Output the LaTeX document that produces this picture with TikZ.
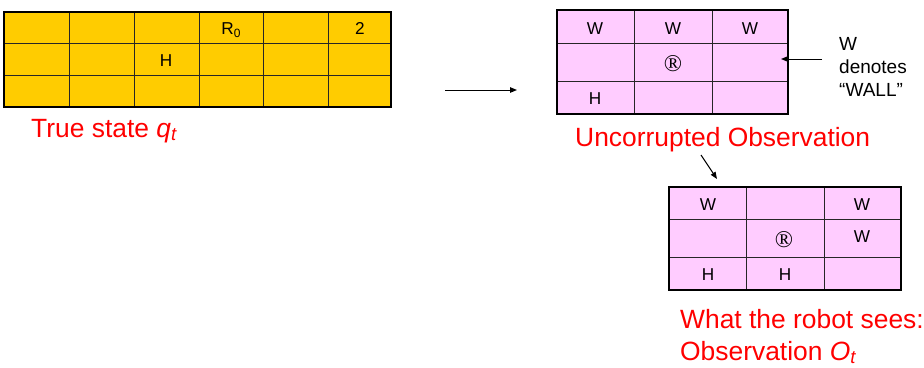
\documentclass[tikz,border=0pt]{standalone}
\usepackage{fontspec}
\setmainfont{Liberation Sans}
\newfontfamily\serifsym{Liberation Serif}
\usetikzlibrary{arrows.meta}
\definecolor{stategold}{HTML}{FFCC00}
\definecolor{obspink}{HTML}{FFCCFF}
\definecolor{labelred}{HTML}{FF0000}
\newcommand{\robotmark}{{\serifsym\fontsize{24}{24}\selectfont ®}}

\tikzset{
  cellfill/.style={inner sep=0pt, outer sep=0pt, anchor=north west},
  frameline/.style={line width=2.2pt, black},
  gridline/.style={line width=1pt, black!85},
  celltext/.style={anchor=base, inner sep=0pt, font=\fontsize{17.2}{17.2}\selectfont},
  robottext/.style={anchor=center, inner sep=0pt},
  redlabel/.style={anchor=base west, inner sep=0pt, text=labelred, font=\fontsize{26.4}{32}\selectfont},
  notelabel/.style={anchor=north west, inner sep=0pt, align=left, font=\fontsize{19}{23.3}\selectfont},
  pointer/.style={line width=1pt, -{Triangle[length=7pt,width=5.5pt]}},
}

\begin{document}
\begin{tikzpicture}[x=1pt,y=-1pt]
\useasboundingbox (0,0) rectangle (924,367);

% ---- true state: 6 x 3 grid ----
\node[cellfill, fill=stategold, minimum width=387pt, minimum height=95pt] (truegrid) at (4,12) {};
\foreach \x in {69,134,199,263,328} \draw[gridline] (\x,12) -- (\x,107);
\foreach \y in {43,75} \draw[gridline] (4,\y) -- (391,\y);
\draw[frameline] (truegrid.north west) rectangle (truegrid.south east);
\node[celltext] (tR) at (231,34) {R\raisebox{-3.5pt}{\fontsize{12}{12}\selectfont 0}};
\node[celltext] (t2) at (360,34) {2};
\node[celltext] (tH) at (166,66) {H};
\node[redlabel] (truelabel) at (31,137) {True state \textit{q\textsubscript{t}}};

% ---- uncorrupted observation: 3 x 3 grid ----
\node[cellfill, fill=obspink, minimum width=231pt, minimum height=104pt] (obsgrid) at (557,10) {};
\foreach \x in {634,712} \draw[gridline] (\x,10) -- (\x,114);
\foreach \y in {43,81} \draw[gridline] (557,\y) -- (788,\y);
\draw[frameline] (obsgrid.north west) rectangle (obsgrid.south east);
\node[celltext] (oW1) at (595,34) {W};
\node[celltext] (oW2) at (673,34) {W};
\node[celltext] (oW3) at (750,34) {W};
\node[robottext] (oR) at (673,64) {\robotmark};
\node[celltext] (oH) at (595,104) {H};
\node[redlabel] (obslabel) at (575,146) {Uncorrupted Observation};

% wall note
\node[notelabel] (wallnote) at (839,37) {W\\denotes\\“WALL”};
\coordinate (noteend) at (822,59);
\coordinate (notetip) at (781,59);
\draw[pointer] (noteend) -- (notetip);

% transition arrow
\coordinate (stepfrom) at (445,90);
\coordinate (stepto) at (517,90);
\draw[pointer] (stepfrom) -- (stepto);

% ---- what the robot sees: 3 x 3 grid ----
\node[cellfill, fill=obspink, minimum width=232pt, minimum height=103pt] (seengrid) at (669,187) {};
\foreach \x in {746,824} \draw[gridline] (\x,187) -- (\x,290);
\foreach \y in {219,257} \draw[gridline] (669,\y) -- (901,\y);
\draw[frameline] (seengrid.north west) rectangle (seengrid.south east);
\node[celltext] (sW1) at (708,210) {W};
\node[celltext] (sW2) at (862,210) {W};
\node[celltext] (sW3) at (862,242) {W};
\node[robottext] (sR) at (784,240) {\robotmark};
\node[celltext] (sH1) at (708,280) {H};
\node[celltext] (sH2) at (785,280) {H};
\node[redlabel, align=left] (seenlabel) at (680,360) {What the robot sees:\\Observation \textit{O\textsubscript{t}}};

\coordinate (corruptfrom) at (701,155);
\coordinate (corruptto) at (717,179);
\draw[pointer] (corruptfrom) -- (corruptto);
\end{tikzpicture}
\end{document}
